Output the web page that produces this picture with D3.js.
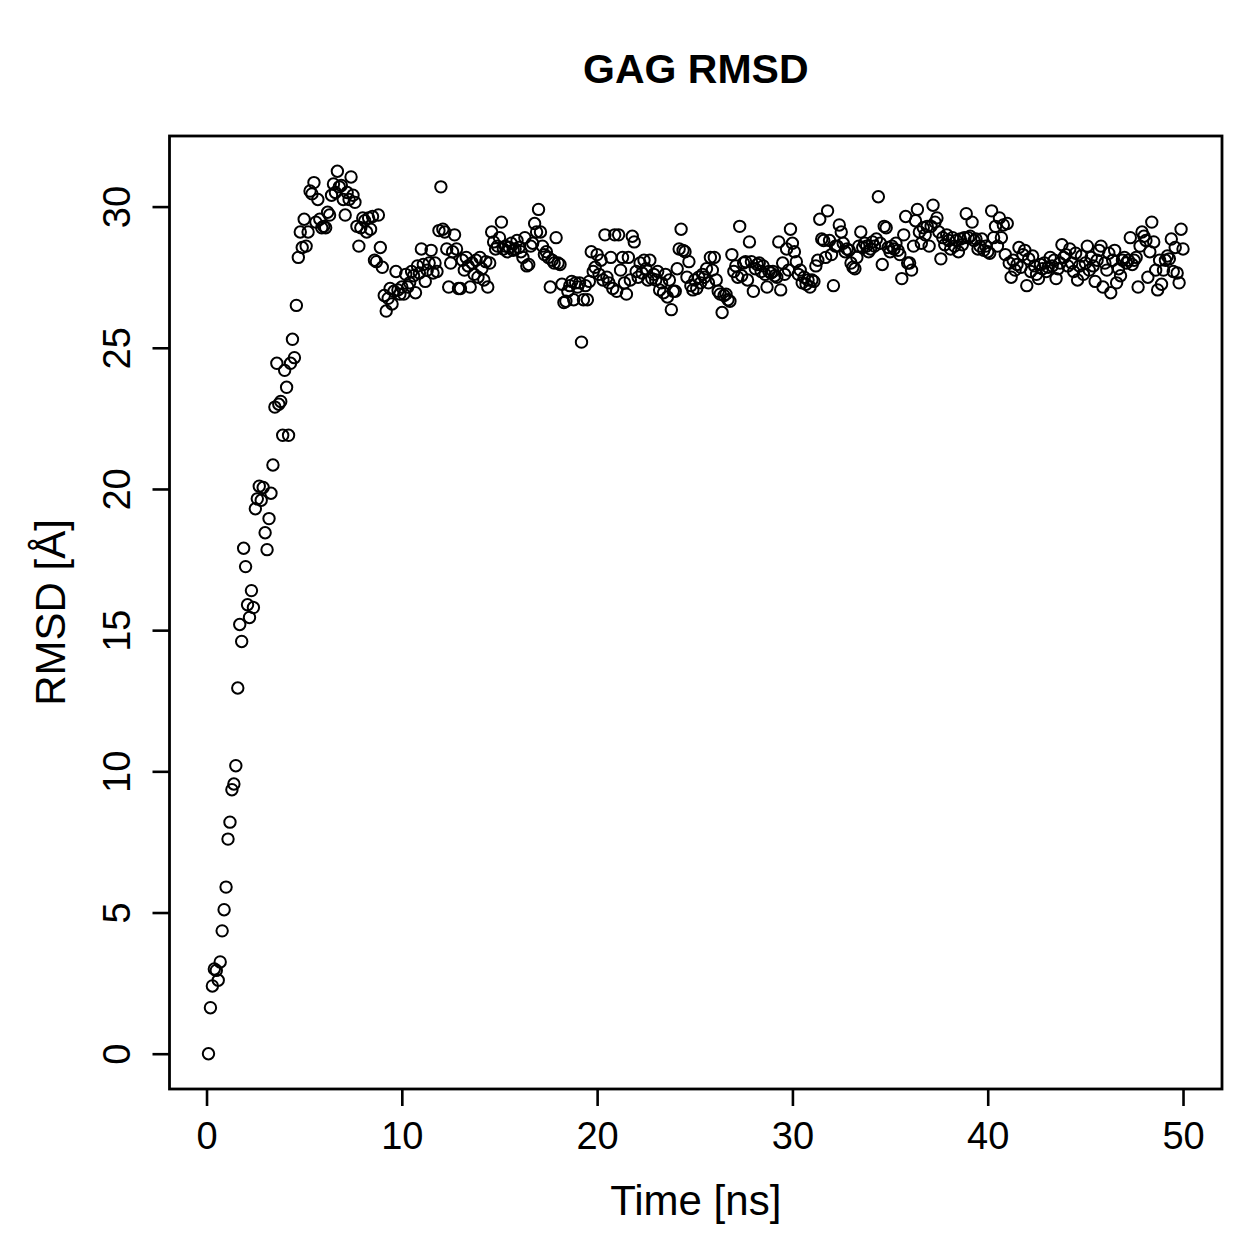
<!DOCTYPE html>
<html>
<head>
<meta charset="utf-8">
<script src="https://cdn.jsdelivr.net/npm/d3@7"></script>
<style>
  body { margin: 0; background: white; }
  text { font-family: "Liberation Sans", Arial, sans-serif; }
</style>
</head>
<body>
<div id="viz"></div>
<script>
// sampling of the trajectory
const timeStart = 0.1;
const timeStep = 0.1;

// RMSD values, one row per ns (0.1 .. 50.0)
const rmsd = [
  0, 1.63, 2.4, 3.0, 2.95, 2.6, 3.25, 4.35, 5.1, 5.9,
  7.6, 8.2, 9.35, 9.55, 10.2, 12.95, 15.2, 14.6, 17.9, 17.25,
  15.9, 15.45, 16.4, 15.8, 19.3, 19.65, 20.1, 19.6, 20.05, 18.45,
  17.85, 18.95, 19.85, 20.85, 22.9, 24.45, 23.0, 23.1, 21.9, 24.2,
  23.6, 21.9, 24.45, 25.3, 24.65, 26.5, 28.2, 29.1, 28.55, 29.55,
  28.6, 29.1, 30.55, 30.45, 30.85, 29.45, 30.25, 29.55, 29.25, 29.3,
  29.25, 29.8, 29.7, 30.4, 30.8, 30.5, 31.25, 30.7, 30.75, 30.25,
  29.7, 30.5, 30.25, 31.05, 30.4, 30.15, 29.3, 28.6, 29.25, 29.6,
  29.5, 29.1, 29.6, 29.2, 29.65, 28.1, 28.05, 29.7, 28.55, 27.85,
  26.85, 26.3, 26.75, 27.1, 26.55, 27.0, 27.7, 27.05, 26.9, 27.15,
  26.9, 27.6, 27.15, 27.3, 27.7, 27.55, 26.95, 27.9, 27.65,
  28.5, 27.95, 27.35, 27.75, 28.0, 28.45, 27.65, 28.0, 27.7, 29.15,
  30.7, 29.2, 29.1, 28.5, 27.15, 28.0, 28.4, 29.0, 28.5, 27.1,
  27.1, 28.1, 27.75, 28.2, 27.9, 27.15, 28.0, 27.6, 28.1, 27.5,
  28.2, 27.8, 27.4, 28.05, 27.15, 28.0, 29.1, 28.75, 28.5, 28.6,
  28.9, 29.45, 28.5, 28.6, 28.4, 28.55, 28.7, 28.45, 28.5, 28.8,
  28.55, 28.4, 28.2, 28.9, 27.9, 27.95, 28.6, 28.7, 29.4, 29.1,
  29.9, 29.1, 28.6, 28.3, 28.4, 28.2, 27.15, 28.1, 28.0, 28.9,
  28.0, 27.95, 27.25, 26.6, 26.65, 27.0, 27.2, 27.35, 26.7, 27.3,
  27.15, 27.3, 25.2, 26.7, 27.2, 26.7, 27.35, 28.4, 27.7, 27.85,
  28.3, 27.6, 28.1, 27.4, 29.0, 27.5, 27.3, 28.2, 27.1, 29.0,
  27.0, 29.0, 27.75, 28.2, 27.3, 26.9, 28.2, 27.4, 28.95, 28.75,
  27.7, 27.5, 28.0, 27.65, 28.1, 27.8, 27.4, 28.1, 27.45, 27.6,
  27.4, 27.7, 27.05, 27.3, 26.95, 27.6, 26.8, 27.4, 26.35, 27.0,
  27.0, 27.8, 28.5, 29.2, 28.45, 28.4, 27.5, 28.05, 27.2, 27.05,
  27.4, 27.1, 27.5, 27.3, 27.6, 27.5, 27.8, 27.3, 28.2, 27.75,
  28.2, 27.4, 27.0, 26.9, 26.25, 26.85, 26.9, 26.7, 26.65, 28.3,
  27.7, 27.9, 27.5, 29.3, 27.55, 28.0, 28.05, 27.4, 28.75, 28.05,
  27.0, 27.8, 27.95, 28.0, 27.7, 27.9, 27.6, 27.15, 27.7, 27.65,
  27.7, 27.55, 27.5, 28.75, 27.05, 28.0, 27.6, 28.5, 27.75, 29.2,
  28.7, 28.4, 28.05, 27.6, 27.75, 27.3, 27.5, 27.25, 27.4, 27.15,
  27.4, 27.35, 27.9, 28.1, 29.55, 28.85, 28.8, 28.2, 29.85, 28.8,
  28.3, 27.2, 28.6, 28.6, 29.35, 29.1, 28.7, 28.4, 28.5, 28.45,
  28.0, 27.85, 27.8, 28.2, 28.6, 29.1, 28.55, 28.7, 28.6, 28.4,
  28.5, 28.75, 28.6, 28.85, 30.35, 28.7, 27.95, 29.3, 29.25, 28.55,
  28.4, 28.6, 28.5, 28.7, 28.45, 28.3, 27.45, 29.0, 29.65, 28.0,
  28.0, 27.75, 28.6, 29.5, 29.9, 29.1, 28.7, 29.25, 29.0, 29.3,
  28.6, 29.3, 30.05, 29.45, 29.6, 29.1, 28.15, 28.9, 28.65, 29.0,
  28.8, 28.5, 28.9, 28.6, 28.8, 28.4, 28.85, 28.65, 28.9, 29.75,
  28.9, 28.95, 29.45, 28.8, 28.85, 28.5, 28.6, 28.85, 28.45, 28.6,
  28.4, 28.35, 29.85, 28.9, 29.3, 28.6, 29.6, 28.9, 29.35, 28.3,
  29.4, 28.0, 27.5, 28.1, 27.75, 27.95, 28.55, 27.85, 28.3, 28.45,
  27.2, 28.15, 27.7, 28.25, 27.9, 27.6, 27.45, 27.95, 27.8, 28.0,
  27.7, 27.85, 28.2, 27.9, 28.1, 27.45, 27.8, 28.0, 28.65, 28.2,
  28.3, 27.9, 28.5, 28.0, 27.7, 28.35, 27.4, 27.9, 28.25, 27.6,
  28.0, 28.6, 27.75, 28.2, 27.9, 27.35, 28.1, 28.45, 28.6, 27.15,
  28.0, 27.75, 28.35, 26.95, 28.1, 28.45, 27.3, 27.8, 27.55, 28.1,
  28.2, 28.0, 28.1, 28.9, 27.95, 28.1, 28.2, 27.15, 28.6, 29.1,
  28.95, 28.8, 27.5, 28.4, 29.45, 28.75, 27.75, 27.05, 28.1, 27.25,
  27.75, 28.1, 28.25, 28.15, 28.85, 27.7, 28.55, 27.65, 27.3, 29.2,
  28.5
];

const xTicks = [0, 10, 20, 30, 40, 50];
const yTicks = [0, 5, 10, 15, 20, 25, 30];
const titleText = 'GAG RMSD';
const xLabel = 'Time [ns]';
const yLabel = 'RMSD [Å]';

const width = 1259;
const height = 1259;
const margin = { top: 136, right: 37, bottom: 170, left: 169.5 };
const tickFont = 38;
const labelFont = 42;

const points = rmsd.map((v, i) => ({ t: timeStart + i * timeStep, v: v }));

// R style axis range: data extent padded by 4% on each side
function padded(ext) {
  const pad = (ext[1] - ext[0]) * 0.04;
  return [ext[0] - pad, ext[1] + pad];
}

const svg = d3.select('#viz')
  .append('svg')
  .attr('width', width)
  .attr('height', height);

const xScale = d3.scaleLinear()
  .domain(padded(d3.extent(points, d => d.t)))
  .range([margin.left, width - margin.right]);

const yScale = d3.scaleLinear()
  .domain(padded(d3.extent(points, d => d.v)))
  .range([height - margin.bottom, margin.top]);

// points
svg.append('g')
  .selectAll('circle')
  .data(points)
  .enter().append('circle')
  .attr('cx', d => xScale(d.t))
  .attr('cy', d => yScale(d.v))
  .attr('r', 5.7)
  .style('fill', 'none')
  .style('stroke', 'black')
  .style('stroke-width', 2);

// x axis
const xAxis = svg.append('g')
  .attr('transform', `translate(0,${height - margin.bottom})`)
  .call(d3.axisBottom(xScale).tickValues(xTicks).tickSize(17).tickPadding(16));

// y axis, labels turned like R does
const yAxis = svg.append('g')
  .attr('transform', `translate(${margin.left},0)`)
  .call(d3.axisLeft(yScale).tickValues(yTicks).tickSize(17));

yAxis.selectAll('.tick text')
  .attr('x', 0)
  .attr('dy', 0)
  .attr('text-anchor', 'middle')
  .attr('transform', 'translate(-40,0) rotate(-90)');

[xAxis, yAxis].forEach(ax => {
  ax.select('.domain').remove();
  ax.selectAll('.tick line').style('stroke', 'black').style('stroke-width', 2.6);
  ax.selectAll('.tick text')
    .style('font-size', tickFont + 'px')
    .style('font-family', '"Liberation Sans", Arial, sans-serif')
    .style('fill', 'black');
});

// plot box
svg.append('rect')
  .attr('x', margin.left)
  .attr('y', margin.top)
  .attr('width', width - margin.left - margin.right)
  .attr('height', height - margin.top - margin.bottom)
  .style('fill', 'none')
  .style('stroke', 'black')
  .style('stroke-width', 2.8);

const plotMidX = (margin.left + width - margin.right) / 2;
const plotMidY = (margin.top + height - margin.bottom) / 2;

// title
svg.append('text')
  .attr('x', plotMidX)
  .attr('y', 83)
  .attr('text-anchor', 'middle')
  .style('font-size', '41px')
  .style('font-weight', 'bold')
  .text(titleText);

// axis labels
svg.append('text')
  .attr('x', plotMidX)
  .attr('y', 1215)
  .attr('text-anchor', 'middle')
  .style('font-size', labelFont + 'px')
  .text(xLabel);

svg.append('text')
  .attr('transform', `translate(65,${plotMidY}) rotate(-90)`)
  .attr('text-anchor', 'middle')
  .style('font-size', labelFont + 'px')
  .text(yLabel);
</script>
</body>
</html>
